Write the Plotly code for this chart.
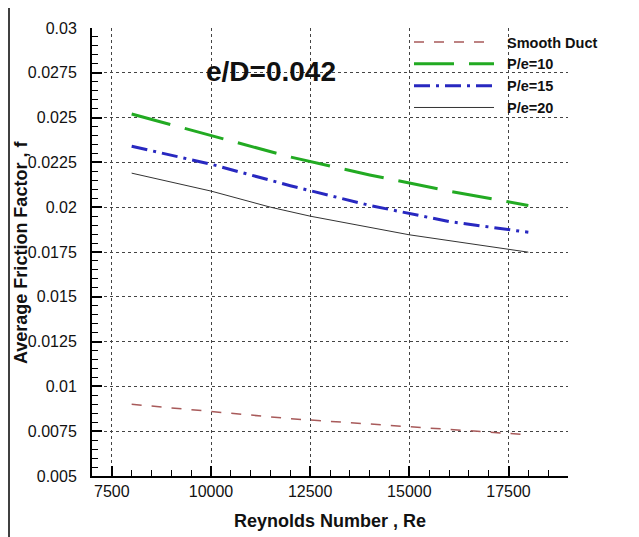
import plotly.graph_objects as go

# ---- data ----
re_common = [8000, 10000, 12000, 14000, 16000, 18000]
f_smooth = [0.0090, 0.0086, 0.0082, 0.0079, 0.0076, 0.0073]
f_pe10 = [0.0252, 0.0240, 0.0228, 0.0218, 0.0209, 0.0201]
f_pe15 = [0.0234, 0.0224, 0.0212, 0.0201, 0.0192, 0.0186]
re_pe20 = [8000, 10000, 11500, 12500, 15000, 18000]
f_pe20 = [0.0219, 0.0209, 0.0200, 0.0195, 0.01846, 0.01749]

x_tickvals = [7500, 10000, 12500, 15000, 17500]
x_ticktext = ["7500", "10000", "12500", "15000", "17500"]
y_tickvals = [0.005, 0.0075, 0.01, 0.0125, 0.015, 0.0175, 0.02, 0.0225, 0.025, 0.0275, 0.03]
y_ticktext = ["0.005", "0.0075", "0.01", "0.0125", "0.015", "0.0175", "0.02", "0.0225", "0.025", "0.0275", "0.03"]

FONT = "Liberation Sans, Arial, sans-serif"
PAD = "\u00a0\u00a0"

# page body has an 8px margin, so the figure is drawn 8px in from the window edge
OFF = 8
PL, PT, PW, PH = 92, 28, 476, 448  # plot area in window pixels


def px(xw):
    return (xw - PL) / PW


def py(yw):
    return (PT + PH - yw) / PH


fig = go.Figure()
fig.add_trace(go.Scatter(x=re_common, y=f_smooth, mode="lines", name=PAD + "Smooth Duct",
                         line=dict(color="#a85a5a", width=1.5, dash="10px,10px")))
fig.add_trace(go.Scatter(x=re_common, y=f_pe10, mode="lines", name=PAD + "P/e=10",
                         line=dict(color="#22aa22", width=3, dash="40px,15px")))
fig.add_trace(go.Scatter(x=re_common, y=f_pe15, mode="lines", name=PAD + "P/e=15",
                         line=dict(color="#2828c0", width=3, dash="16px,6px,3px,6px")))
fig.add_trace(go.Scatter(x=re_pe20, y=f_pe20, mode="lines", name=PAD + "P/e=20",
                         line=dict(color="#333333", width=1)))

axis_common = dict(
    showline=True, linecolor="black", linewidth=2, mirror=False,
    ticks="inside", ticklen=10, tickwidth=2, tickcolor="black",
    showgrid=True, gridcolor="#444444", gridwidth=1, griddash="dot",
    zeroline=False, automargin=False,
    tickfont=dict(family=FONT, size=16, color="#111111"),
)

fig.update_xaxes(
    range=[7000, 19000], tickvals=x_tickvals, ticktext=x_ticktext,
    minor=dict(ticks="inside", ticklen=6, tickwidth=1, tickcolor="black", dtick=500, tick0=7000, showgrid=False),
    title=dict(text="Reynolds Number , Re", font=dict(family=FONT, size=18, color="#111111", weight="bold"), standoff=15),
    **axis_common,
)
fig.update_yaxes(
    range=[0.005, 0.03], tickvals=y_tickvals, ticktext=y_ticktext,
    minor=dict(ticks="inside", ticklen=6, tickwidth=1, tickcolor="black", dtick=0.0005, tick0=0.005, showgrid=False),
    ticklabelstandoff=10,
    **axis_common,
)

# y-axis title
fig.add_annotation(text="<b>Average Friction Factor , f</b>", xref="paper", yref="paper",
                   x=px(21), y=py(253), xanchor="center", yanchor="middle", textangle=-90,
                   showarrow=False, font=dict(family=FONT, size=18, color="#111111"))

fig.add_annotation(text="<b>e/D=0.042</b>", xref="paper", yref="paper",
                   x=px(271), y=py(72), xanchor="center", yanchor="middle", showarrow=False,
                   font=dict(family=FONT, size=28, color="#111111"))

# image border line on the far left
fig.add_shape(type="line", xref="paper", yref="paper",
              x0=px(9), x1=px(9), y0=py(540), y1=py(5),
              line=dict(color="black", width=1.5))

fig.update_layout(
    width=639 - OFF, height=537 - OFF,
    margin=dict(l=PL - OFF, r=639 - PL - PW, t=PT - OFF, b=537 - PT - PH, autoexpand=False),
    paper_bgcolor="white", plot_bgcolor="white",
    showlegend=True,
    legend=dict(x=px(409), y=py(26), xanchor="left", yanchor="top",
                bgcolor="rgba(0,0,0,0)", borderwidth=0, itemwidth=80,
                font=dict(family=FONT, size=14.5, color="#111111", weight="bold"),
                tracegroupgap=0),
)

fig.write_html("out.html")
